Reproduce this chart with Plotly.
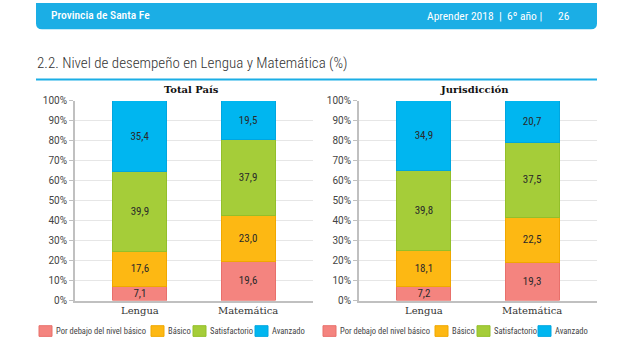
import plotly.graph_objects as go

# ---------------- data ----------------
categories = ["Lengua", "Matemática"]
series_names = ["Por debajo del nivel básico", "Básico", "Satisfactorio", "Avanzado"]

tp_debajo = [7.1, 19.6]
tp_basico = [17.6, 23.0]
tp_satisf = [39.9, 37.9]
tp_avanzado = [35.4, 19.5]

ju_debajo = [7.2, 19.3]
ju_basico = [18.1, 22.5]
ju_satisf = [39.8, 37.5]
ju_avanzado = [34.9, 20.7]

panel_titles = ["Total País", "Jurisdicción"]
y_tickvals = [0, 10, 20, 30, 40, 50, 60, 70, 80, 90, 100]
y_ticktext = ["0%", "10%", "20%", "30%", "40%", "50%", "60%", "70%", "80%", "90%", "100%"]

# ---------------- style ----------------
W, H = 640, 354
colors = ["#F4847F", "#FDB813", "#A5CD39", "#00B6F0"]
edge_colors = ["#E8706B", "#F0A800", "#93BF2A", "#00A6E0"]
NARROW = "Roboto Condensed, Liberation Sans Narrow, DejaVu Sans Condensed, Arial Narrow, sans-serif"
SLAB = "DejaVu Serif, Liberation Serif, serif"
BAND = "#1BAEE5"


def px(x):
    return x / W


def py(y):
    return 1 - y / H


fig = go.Figure()

panels = [
    ("x", "y", [tp_debajo, tp_basico, tp_satisf, tp_avanzado]),
    ("x2", "y2", [ju_debajo, ju_basico, ju_satisf, ju_avanzado]),
]
for xa, ya, series in panels:
    for name, vals, c, ec in zip(series_names, series, colors, edge_colors):
        fig.add_trace(go.Bar(
            x=categories, y=vals, name=name, xaxis=xa, yaxis=ya,
            marker=dict(color=c, line=dict(color=ec, width=1)),
            width=0.5,
            texttemplate="%{y:.1f}", textposition="inside",
            insidetextanchor="middle", constraintext="none",
            textfont=dict(family=NARROW, size=11, color="#2a2a2a"),
            showlegend=False, hoverinfo="skip",
        ))

axis_y = dict(range=[0, 100], tickmode="array", tickvals=y_tickvals, ticktext=y_ticktext,
              showgrid=True, gridcolor="#E6E6E6", gridwidth=1,
              showline=True, linecolor="#C0C0C0", linewidth=2,
              ticks="outside", ticklen=4, tickcolor="#C0C0C0",
              tickfont=dict(family="Roboto, sans-serif", size=10, color="#444"),
              zeroline=False, fixedrange=True)
axis_x = dict(range=[-0.6, 1.6], showline=True, linecolor="#C0C0C0", linewidth=1.5,
              ticks="", showgrid=False,
              tickfont=dict(family=SLAB, size=10, color="#333"), fixedrange=True)

yd = [py(305), py(99)]
fig.update_layout(
    width=W, height=H, margin=dict(l=0, r=0, t=0, b=0, pad=0), autosize=False,
    paper_bgcolor="white", plot_bgcolor="white",
    barmode="stack", separators=",.",
    uniformtext=dict(minsize=11, mode="show"),
    xaxis=dict(domain=[px(75), px(313)], anchor="y", **axis_x),
    yaxis=dict(domain=yd, anchor="x", **axis_y),
    xaxis2=dict(domain=[px(359), px(597)], anchor="y2", **axis_x),
    yaxis2=dict(domain=yd, anchor="x2", **axis_y),
)

shapes = []
annotations = []

# header band with rounded bottom corners
x0, x1, y0, y1, r = 36, 597, -2, 25, 6
path = (f"M {px(x0)},{py(y0)} L {px(x1)},{py(y0)} L {px(x1)},{py(y1 - r)} "
        f"Q {px(x1)},{py(y1)} {px(x1 - r)},{py(y1)} L {px(x0 + r)},{py(y1)} "
        f"Q {px(x0)},{py(y1)} {px(x0)},{py(y1 - r)} Z")
shapes.append(dict(type="path", path=path, xref="paper", yref="paper",
                   fillcolor=BAND, line=dict(width=0), layer="below"))
annotations.append(dict(text="Provincia de Santa Fe", x=px(49), y=py(10.5),
                        xref="paper", yref="paper", xanchor="left", yanchor="middle",
                        showarrow=False,
                        font=dict(family=NARROW, size=11.5, color="white", weight=500)))
annotations.append(dict(text="Aprender 2018  |  6º año |      26", x=px(572), y=py(11),
                        xref="paper", yref="paper", xanchor="right", yanchor="middle",
                        showarrow=False,
                        font=dict(family=NARROW, size=11.5, color="white")))

# section title and underline
annotations.append(dict(text="2.2. Nivel de desempeño en Lengua y Matemática (%)",
                        x=px(35), y=py(60), xref="paper", yref="paper",
                        xanchor="left", yanchor="middle", showarrow=False,
                        font=dict(family=NARROW, size=15, color="#333", weight=300)))
shapes.append(dict(type="line", xref="paper", yref="paper",
                   x0=px(36), x1=px(597), y0=py(77), y1=py(77),
                   line=dict(color=BAND, width=2)))

# panel titles
for t, cx in zip(panel_titles, [191, 474]):
    annotations.append(dict(text=f"<b>{t}</b>", x=px(cx), y=py(87), xref="paper", yref="paper",
                            xanchor="center", yanchor="middle", showarrow=False,
                            font=dict(family=SLAB, size=10, color="#111")))

# legends (one under each panel)
legend_swatch_x = [[39, 151, 193, 255], [323, 435, 477, 538]]
for row in legend_swatch_x:
    for sx, name, c, ec in zip(row, series_names, colors, edge_colors):
        shapes.append(dict(type="rect", xref="paper", yref="paper",
                           x0=px(sx), x1=px(sx + 13), y0=py(342), y1=py(331),
                           fillcolor=c, line=dict(color=ec, width=1)))
        annotations.append(dict(text=name, x=px(sx + 15), y=py(336.5), xref="paper", yref="paper",
                                xanchor="left", yanchor="middle", showarrow=False,
                                font=dict(family=NARROW, size=8.5, color="#444")))

fig.update_layout(shapes=shapes, annotations=annotations)
fig.write_html("out.html")
